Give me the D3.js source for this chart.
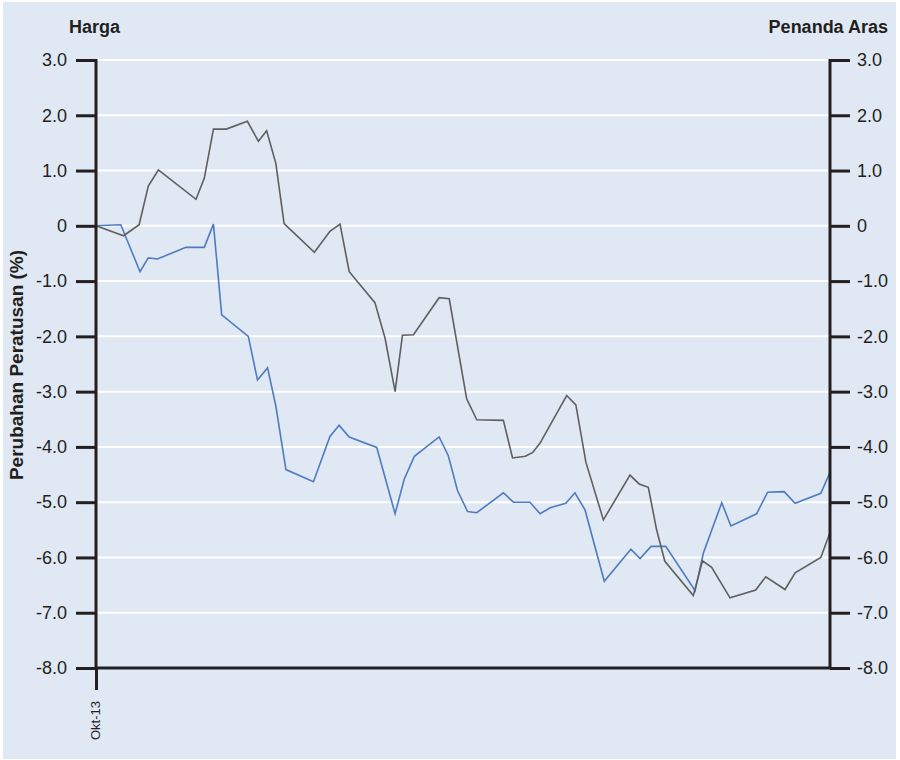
<!DOCTYPE html>
<html>
<head>
<meta charset="utf-8">
<script src="https://cdn.jsdelivr.net/npm/d3@7"></script>
<style>
  html, body { margin: 0; padding: 0; background: #ffffff; }
  svg { display: block; font-family: "Liberation Sans", Arial, sans-serif; }
</style>
</head>
<body>
<svg id="chart" width="900" height="760"></svg>
<script>
// ---- data (x = position along the period, y = % change) ----
const xTickValues = [0];
const xTickLabels = ["Okt-13"];
const yTickValues = [3, 2, 1, 0, -1, -2, -3, -4, -5, -6, -7, -8];
const yTickLabels = ["3.0", "2.0", "1.0", "0", "-1.0", "-2.0", "-3.0", "-4.0", "-5.0", "-6.0", "-7.0", "-8.0"];

const blueX = [0, 2.7, 4.8, 5.7, 6.7, 9.8, 11.8, 12.8, 13.7, 16.6, 17.6, 18.7, 19.6, 20.7, 23.7, 25.5, 26.5, 27.6, 30.6, 32.6, 33.6, 34.7, 37.4, 38.4, 39.4, 40.5, 41.5, 44.4, 45.5, 47.3, 48.4, 49.5, 51.2, 52.2, 53.3, 55.4, 58.3, 59.3, 60.5, 62.1, 65.3, 66.2, 68.2, 69.2, 72.0, 73.2, 75.0, 76.2, 79.0, 80];
const blueY = [0, 0.02, -0.83, -0.58, -0.60, -0.39, -0.39, 0.03, -1.61, -2.00, -2.79, -2.57, -3.26, -4.41, -4.63, -3.81, -3.61, -3.82, -4.01, -5.21, -4.58, -4.17, -3.82, -4.16, -4.79, -5.17, -5.19, -4.83, -5.00, -5.00, -5.21, -5.10, -5.02, -4.83, -5.14, -6.43, -5.85, -6.02, -5.80, -5.80, -6.60, -5.92, -5.01, -5.43, -5.21, -4.82, -4.81, -5.02, -4.84, -4.46];

const grayX = [0, 3.0, 4.7, 5.7, 6.8, 10.9, 11.8, 12.8, 14.2, 16.5, 17.7, 18.6, 19.6, 20.5, 23.8, 25.5, 26.6, 27.6, 30.4, 31.5, 32.6, 33.4, 34.6, 37.4, 38.5, 40.4, 41.5, 44.4, 45.4, 46.8, 47.6, 48.4, 51.3, 52.3, 53.4, 55.3, 58.2, 59.2, 60.2, 61.1, 62.0, 65.1, 66.1, 67.1, 69.1, 71.9, 73.0, 75.1, 76.2, 79.0, 80];
const grayY = [0, -0.18, 0.02, 0.72, 1.01, 0.48, 0.86, 1.75, 1.75, 1.89, 1.53, 1.72, 1.13, 0.04, -0.48, -0.10, 0.03, -0.83, -1.39, -2.03, -3.00, -1.98, -1.97, -1.30, -1.32, -3.13, -3.51, -3.52, -4.20, -4.17, -4.10, -3.93, -3.07, -3.24, -4.28, -5.32, -4.51, -4.67, -4.73, -5.50, -6.07, -6.69, -6.06, -6.18, -6.73, -6.59, -6.35, -6.58, -6.28, -6.00, -5.55];

// ---- layout ----
const svg = d3.select("#chart");
const mLeft = 96, mRight = 830, mTop = 60, mBottom = 668;
const ink = "#231f20";

svg.append("rect").attr("x", 3).attr("y", 2).attr("width", 893).attr("height", 757).attr("fill", "#e0e8f4");

const x = d3.scaleLinear().domain([0, 80]).range([mLeft, mRight]);
const y = d3.scaleLinear().domain([-8, 3]).range([mBottom, mTop]);

// grid lines
svg.append("g")
  .selectAll("line")
  .data(yTickValues.filter(v => v > -8))
  .join("line")
  .attr("x1", mLeft).attr("x2", mRight)
  .attr("y1", d => y(d)).attr("y2", d => y(d))
  .attr("stroke", "#ffffff").attr("stroke-width", 2);

// series
const line = d3.line().x(d => x(d[0])).y(d => y(d[1]));
svg.append("path")
  .datum(blueX.map((v, i) => [v, blueY[i]]))
  .attr("d", line).attr("fill", "none")
  .attr("stroke", "#4f7cc0").attr("stroke-width", 1.6);
svg.append("path")
  .datum(grayX.map((v, i) => [v, grayY[i]]))
  .attr("d", line).attr("fill", "none")
  .attr("stroke", "#5f5f5f").attr("stroke-width", 1.6);

// axes
function styleAxis(g) {
  g.selectAll(".domain").remove();
  g.selectAll(".tick line").attr("stroke", ink).attr("stroke-width", 3);
  g.selectAll(".tick text").attr("fill", ink).attr("font-size", 18);
}
const fmtY = d => yTickLabels[yTickValues.indexOf(d)];

svg.append("g").attr("transform", `translate(${mLeft},0)`)
  .call(d3.axisLeft(y).tickValues(yTickValues).tickFormat(fmtY).tickSize(20).tickPadding(9))
  .call(styleAxis);
svg.append("g").attr("transform", `translate(${mRight},0)`)
  .call(d3.axisRight(y).tickValues(yTickValues).tickFormat(fmtY).tickSize(20).tickPadding(7))
  .call(styleAxis);

const gx = svg.append("g").attr("transform", `translate(0,${mBottom})`)
  .call(d3.axisBottom(x).tickValues(xTickValues).tickFormat(d => xTickLabels[xTickValues.indexOf(d)]).tickSize(22).tickPadding(0))
  .call(styleAxis);
gx.selectAll(".tick text")
  .attr("font-size", 13)
  .attr("transform", "rotate(-90)")
  .attr("text-anchor", "end")
  .attr("x", -33).attr("y", -1).attr("dy", "0.35em");

// axis lines
svg.append("line").attr("x1", mLeft).attr("x2", mLeft).attr("y1", mTop - 1).attr("y2", mBottom + 1)
  .attr("stroke", ink).attr("stroke-width", 3);
svg.append("line").attr("x1", mRight).attr("x2", mRight).attr("y1", mTop - 1).attr("y2", mBottom + 1)
  .attr("stroke", ink).attr("stroke-width", 3);
svg.append("line").attr("x1", mLeft).attr("x2", mRight).attr("y1", mBottom).attr("y2", mBottom)
  .attr("stroke", ink).attr("stroke-width", 3);

// titles
svg.append("text").attr("x", 69).attr("y", 33).attr("font-size", 18).attr("font-weight", "bold")
  .attr("fill", ink).text("Harga");
svg.append("text").attr("x", 888).attr("y", 33).attr("font-size", 18).attr("font-weight", "bold")
  .attr("text-anchor", "end").attr("fill", ink).text("Penanda Aras");
svg.append("text").attr("transform", "translate(23,365) rotate(-90)")
  .attr("font-size", 19).attr("font-weight", "bold").attr("text-anchor", "middle")
  .attr("fill", ink).text("Perubahan Peratusan (%)");
</script>
</body>
</html>
